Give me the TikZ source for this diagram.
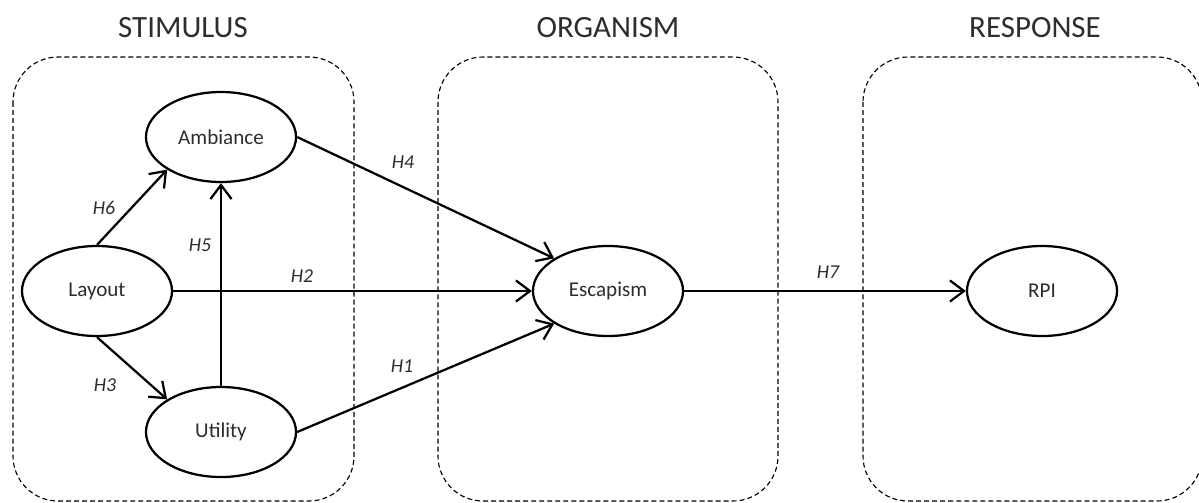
\documentclass[tikz,border=0pt]{standalone}
\usepackage{fontspec}
\setmainfont{Carlito}
\usepackage{xcolor}
\usepackage{tikz}
\usetikzlibrary{arrows.meta, shapes.geometric}
\definecolor{textgray}{RGB}{45,45,45}

\begin{document}
\begin{tikzpicture}[x=0.025cm, y=-0.025cm,
    construct/.style={ellipse, draw, line width=1.6pt, minimum width=3.75cm,
        minimum height=2.25cm, inner sep=0pt, text=textgray,
        font=\fontsize{15}{18}\selectfont},
    hyparrow/.style={line width=1.6pt, -{Straight Barb[length=10pt,width=15pt]}},
    hyplabel/.style={font=\itshape\fontsize{14}{17}\selectfont, text=textgray},
    groupbox/.style={draw, line width=0.8pt, dash pattern=on 3.5pt off 2.2pt,
        rounded corners=1.125cm},
    heading/.style={font=\fontsize{22}{26}\selectfont, text=textgray}]

        \useasboundingbox (0,0) rectangle (1199,502);

        % Dashed groups
        \draw[groupbox] (13,57) rectangle (354,501);
        \draw[groupbox] (438,57) rectangle (778,501);
        \draw[groupbox] (863,57) rectangle (1202,501);
        \node[heading] (stim) at (183,28) {STIMULUS};
        \node[heading] (org) at (608,28) {ORGANISM};
        \node[heading] (resp) at (1035,28) {RESPONSE};

        % Constructs
        \node[construct] (amb) at (221,137) {Ambiance};
        \node[construct] (lay) at (97,291) {Layout};
        \node[construct] (uti) at (221,432) {Utility};
        \node[construct] (esc) at (608,291) {Escapism};
        \node[construct] (rpi) at (1042,291) {RPI};

        % Hypotheses
        \draw[hyparrow] (lay.north) -- (amb.south west);
        \draw[hyparrow] (lay.south) -- (uti.north west);
        \draw[hyparrow] (uti.north) -- (amb.south);
        \draw[hyparrow] (lay.east) -- (esc.west);
        \draw[hyparrow] (amb.east) -- (esc.north west);
        \draw[hyparrow] (uti.east) -- (esc.south west);
        \draw[hyparrow] (esc.east) -- (rpi.west);

        \node[hyplabel] (h6) at (104,208) {H6};
        \node[hyplabel] (h3) at (105,385) {H3};
        \node[hyplabel] (h5) at (200,245) {H5};
        \node[hyplabel] (h2) at (302,276) {H2};
        \node[hyplabel] (h4) at (403,162) {H4};
        \node[hyplabel] (h1) at (402,366) {H1};
        \node[hyplabel] (h7) at (828,272) {H7};

    \end{tikzpicture}
\end{document}
